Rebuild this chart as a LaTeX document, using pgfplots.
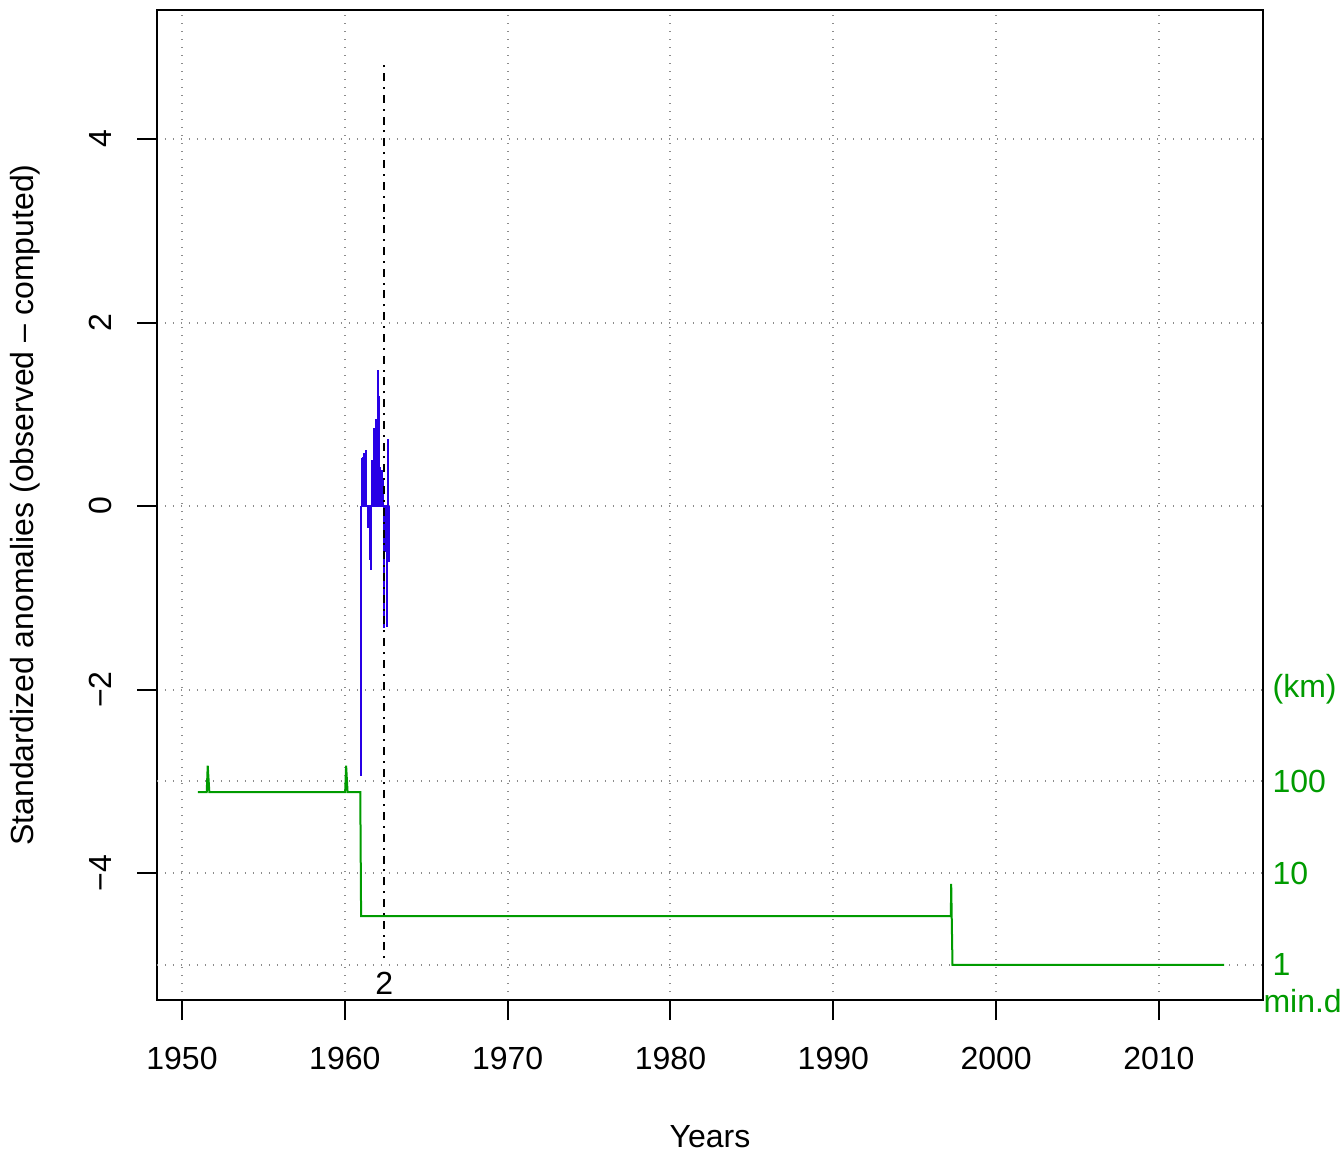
\documentclass[border=0pt]{standalone}
\usepackage{pgfplots}
\pgfplotsset{compat=1.18}
\usepackage{pgfplotstable}
\usepackage{fontspec}
\setmainfont{Liberation Sans}

\definecolor{rblue}{RGB}{40,0,230}
\definecolor{rgreen}{RGB}{0,155,0}

% green line: minimum distance (km), drawn on log scale mapped to y = -5 + log10(d)
\pgfplotstableread{
year dist
1950.98 76
1951.52 76
1951.58 148
1951.68 76
1960.02 76
1960.08 148
1960.17 76
1960.95 76
1961.00 3.4
1997.22 3.4
1997.24 7.6
1997.32 1.0
2014.00 1.0
}\mindist

% standardized anomalies
\pgfplotstableread{
year anom
1960.99 -2.94
1961.04 0.52
1961.12 0.53
1961.20 0.58
1961.30 0.61
1961.41 -0.24
1961.53 -0.59
1961.63 -0.70
1961.69 0.50
1961.79 0.85
1961.85 0.50
1961.92 0.95
1961.98 0.60
1962.06 1.48
1962.12 1.20
1962.16 0.43
1962.27 0.39
1962.35 0.30
1962.43 -1.33
1962.50 -0.50
1962.58 -1.32
1962.68 0.73
1962.74 -0.61
}\anom

\begin{document}
\begin{tikzpicture}[font=\fontsize{12}{14.4}\selectfont]
\useasboundingbox (-58.875pt,-57pt) rectangle (445.125pt,375pt);
\begin{axis}[
  scale only axis,
  width=414.75pt, height=371.25pt,
  xmin=1948.465, xmax=2016.39,
  ymin=-5.384, ymax=5.406,
  xtick={1950,1960,...,2010},
  ytick={-4,-2,0,2,4},
  yticklabels={−4,−2,0,2,4},
  extra y ticks={-5,-3},
  extra y tick labels={},
  extra y tick style={major tick length=0pt},
  x tick label style={/pgf/number format/1000 sep={}},
  /pgf/number format/assume math mode=true,
  tick pos=left,
  tick align=outside,
  major tick length=7.5pt,
  tick style={black, line width=0.75pt},
  axis line style={line width=0.75pt},
  grid=major,
  major grid style={black!45, line width=0.75pt, dash pattern=on 0.5pt off 2.5pt},
  xticklabel style={anchor=north, inner sep=0pt, yshift=-10pt},
  yticklabel style={rotate=90, anchor=south, inner sep=0pt, yshift=9.4pt},
  xlabel={Years},
  ylabel={Standardized anomalies (observed -- computed)},
  every axis x label/.style={at={(axis description cs:0.5,-0.1384)}, anchor=center},
  every axis y label/.style={at={(axis description cs:-0.1193,0.5)}, anchor=center, rotate=90},
  clip=false,
]
\addplot[rgreen, line width=0.75pt] table[x=year, y expr={-5+log10(\thisrow{dist})}] {\mindist};
\addplot[rblue, ycomb, line width=0.75pt] table[x=year, y=anom] {\anom};
\addplot[rblue, line width=0.75pt] coordinates {(1960.99,0) (1962.74,0)};
\addplot[black, line width=0.75pt, dash pattern=on 0.75pt off 2.2pt on 3pt off 2.2pt] coordinates {(1962.43,-4.93) (1962.43,4.81)};
\node[anchor=center, inner sep=0pt] at (axis cs:1962.43,-5.2) {2};
\node[rgreen, anchor=west, inner sep=0pt, xshift=3.4pt] at (axis cs:2016.39,-2) {(km)};
\node[rgreen, anchor=west, inner sep=0pt, xshift=3.4pt] at (axis cs:2016.39,-3) {100};
\node[rgreen, anchor=west, inner sep=0pt, xshift=3.4pt] at (axis cs:2016.39,-4) {10};
\node[rgreen, anchor=west, inner sep=0pt, xshift=3.4pt] at (axis cs:2016.39,-5) {1};
\node[rgreen, anchor=west, inner sep=0pt] at (axis cs:2016.39,-5.4) {min.d};
\end{axis}
\end{tikzpicture}
\end{document}
